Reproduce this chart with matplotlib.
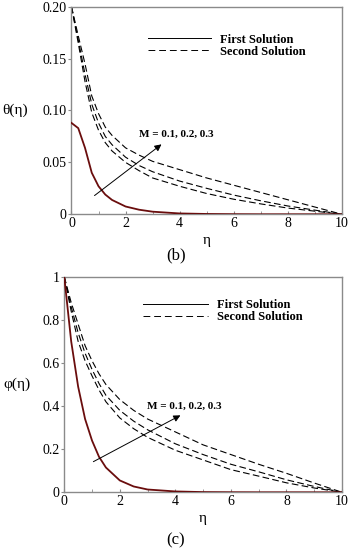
import matplotlib
matplotlib.use("Agg")
import matplotlib.pyplot as plt
from matplotlib.lines import Line2D

plt.rcParams['font.family'] = ['Liberation Serif', 'DejaVu Serif']

# eta grid used for all curves
eta = [0, 0.25, 0.5, 0.75, 1.0, 1.25, 1.5, 2.0, 2.5, 3.0, 4.0, 5.0, 6.0, 7.0, 8.0, 9.0, 10.0]

# (b) temperature profiles theta(eta)
theta_first = [0.088, 0.083, 0.064, 0.040, 0.027, 0.019, 0.0138, 0.0075, 0.0044, 0.0025,
               0.0008, 0.0003, 0.0001, 0, 0, 0, 0]
theta_second = [
    [0.2, 0.165, 0.128, 0.098, 0.081, 0.069, 0.061, 0.050, 0.042, 0.035, 0.027, 0.020, 0.0145, 0.010, 0.006, 0.003, 0],
    [0.2, 0.168, 0.135, 0.106, 0.088, 0.075, 0.067, 0.055, 0.047, 0.041, 0.032, 0.025, 0.0185, 0.013, 0.008, 0.004, 0],
    [0.2, 0.172, 0.145, 0.114, 0.097, 0.084, 0.076, 0.064, 0.057, 0.051, 0.043, 0.035, 0.028, 0.021, 0.014, 0.007, 0],
]

# (c) concentration profiles phi(eta)
phi_first = [1.0, 0.70, 0.49, 0.34, 0.24, 0.165, 0.115, 0.055, 0.027, 0.013,
             0.004, 0.001, 0.0003, 0, 0, 0, 0]
phi_second = [
    [1.0, 0.84, 0.70, 0.61, 0.54, 0.475, 0.42, 0.345, 0.295, 0.255, 0.195, 0.15, 0.105, 0.075, 0.044, 0.020, 0],
    [1.0, 0.86, 0.74, 0.645, 0.57, 0.505, 0.45, 0.38, 0.33, 0.29, 0.225, 0.175, 0.13, 0.095, 0.058, 0.027, 0],
    [1.0, 0.88, 0.78, 0.68, 0.61, 0.55, 0.50, 0.43, 0.38, 0.34, 0.28, 0.22, 0.175, 0.13, 0.088, 0.043, 0],
]

theta_ticks = [0, 0.05, 0.10, 0.15, 0.20]
theta_labels = ['0', '0.05', '0.10', '0.15', '0.20']
phi_ticks = [0, 0.2, 0.4, 0.6, 0.8, 1.0]
phi_labels = ['0', '0.2', '0.4', '0.6', '0.8', '1']

fig = plt.figure(figsize=(3.53, 5.5), dpi=100)
ax1 = fig.add_axes([0.2025, 0.6104, 0.766, 0.3774])
ax2 = fig.add_axes([0.182, 0.1049, 0.787, 0.392])


def style(ax, yticks, ylabels, ymax):
    ax.set_xlim(0, 10)
    ax.set_ylim(0, ymax)
    ax.set_xticks([0, 2, 4, 6, 8, 10])
    ax.set_xticks(range(11), minor=True)
    ax.set_yticks(yticks)
    ax.set_yticklabels(ylabels)
    for s in ax.spines.values():
        s.set_color('#8a8a8a')
        s.set_linewidth(1.0)
    ax.tick_params(axis='x', which='both', direction='in', length=2.5,
                   color='#8a8a8a', labelsize=10, pad=2)
    ax.tick_params(axis='y', direction='out', length=2.5,
                   color='#8a8a8a', labelsize=10, pad=1)
    ax.set_xlabel('η', fontsize=11, labelpad=3)


def draw(ax, first, second, arrow, text_xy, leg_xy, hlen):
    ax.plot(eta, first, color='#6a0d0d', lw=1.3, zorder=3)
    for s in second:
        ax.plot(eta, s, color='black', lw=0.8, dashes=(6, 3))
    ax.annotate('', xy=arrow[1], xytext=arrow[0],
                arrowprops=dict(arrowstyle='-|>', color='black', lw=0.7,
                                mutation_scale=10))
    ax.text(text_xy[0], text_xy[1], 'M = 0.1, 0.2, 0.3', fontsize=8,
            fontweight='bold', ha='left', va='center')
    handles = [Line2D([], [], color='black', lw=0.7),
               Line2D([], [], color='black', lw=0.7, dashes=(7, 4))]
    ax.legend(handles, ['First Solution', 'Second Solution'],
              loc='upper left', bbox_to_anchor=leg_xy, frameon=False,
              borderpad=0, borderaxespad=0, handlelength=hlen,
              handletextpad=0.75, labelspacing=0.0,
              prop={'weight': 'bold', 'size': 9})


draw(ax1, theta_first, theta_second, [(0.77, 0.0164), (3.41, 0.069)],
     (2.5, 0.0766), (0.283, 0.87), 5.0)
style(ax1, theta_ticks, theta_labels, 0.2)
ax1.set_ylabel('θ(η)', fontsize=11, rotation=0, labelpad=20, va='center')

draw(ax2, phi_first, phi_second, [(0.96, 0.136), (4.27, 0.363)],
     (2.97, 0.40), (0.283, 0.895), 5.2)
style(ax2, phi_ticks, phi_labels, 1.0)
ax2.set_ylabel('φ(η)', fontsize=11, rotation=0, labelpad=18, va='center')

fig.text(176 / 353, 1 - 255.7 / 550, '(b)', fontsize=12, ha='center', va='center')
fig.text(176 / 353, 1 - 540 / 550, '(c)', fontsize=12, ha='center', va='center')

fig.savefig('out.png', dpi=100)
